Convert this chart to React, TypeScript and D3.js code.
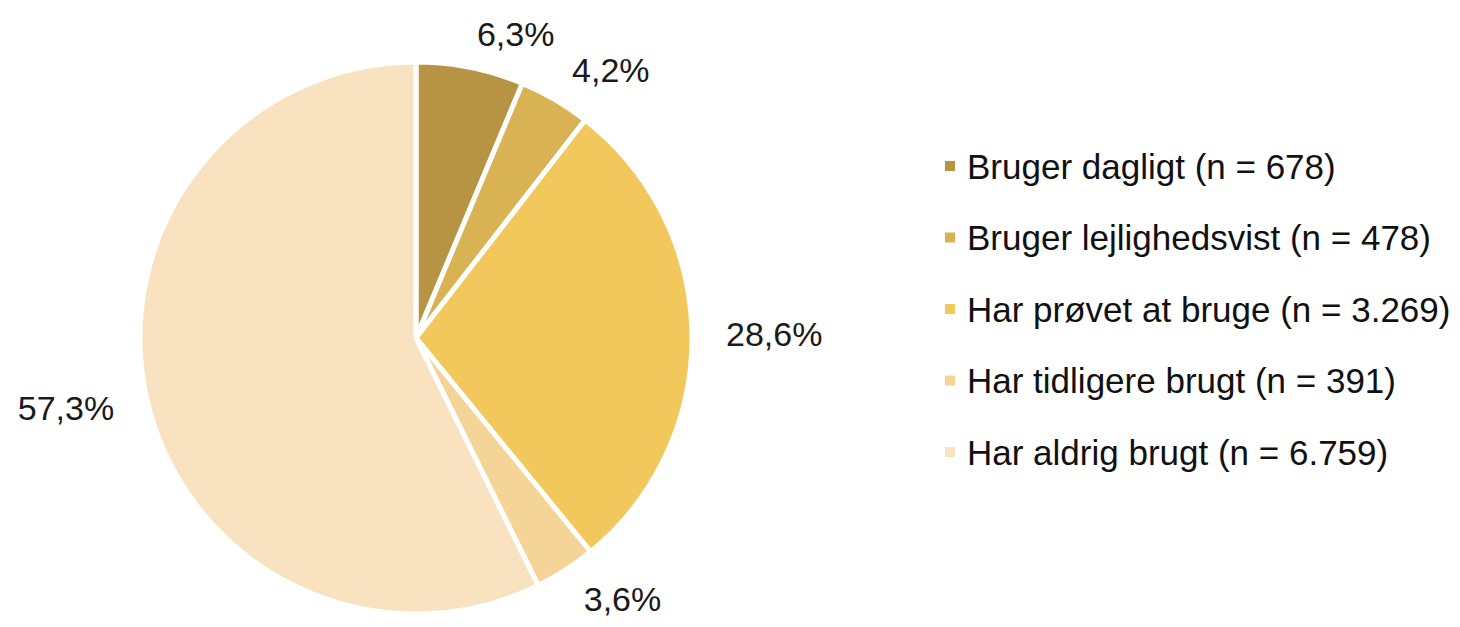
import React from "react";
import * as d3 from "d3";

const categories = [
  "Bruger dagligt (n = 678)",
  "Bruger lejlighedsvist (n = 478)",
  "Har prøvet at bruge (n = 3.269)",
  "Har tidligere brugt (n = 391)",
  "Har aldrig brugt (n = 6.759)",
];
const percentages = [6.3, 4.2, 28.6, 3.6, 57.3];
const percentLabels = ["6,3%", "4,2%", "28,6%", "3,6%", "57,3%"];
const colors = ["#B69443", "#D9B253", "#F2C75C", "#F5D597", "#F8E2C0"];

const W = 1460;
const H = 627;
const cx = 416;
const cy = 338;
const R = 276;
const labelR = 310;

export default function App() {
  const pie = d3
    .pie<number>()
    .sort(null)
    .value((d) => d);
  const arcs = pie(percentages);
  const arcGen = d3.arc<d3.PieArcDatum<number>>().innerRadius(0).outerRadius(R);
  const labelArc = d3.arc<d3.PieArcDatum<number>>().innerRadius(labelR).outerRadius(labelR);

  const legendX = 950;
  const legendY0 = 166;
  const legendStep = 71.5;

  return (
    <svg
      width={W}
      height={H}
      style={{ position: "absolute", left: 0, top: 0, background: "#fff" }}
      fontFamily="'Liberation Sans', Arial, sans-serif"
    >
      <g transform={`translate(${cx},${cy})`}>
        {arcs.map((a, i) => (
          <path key={i} d={arcGen(a) || ""} fill={colors[i]} stroke="#fff" strokeWidth={5} strokeLinejoin="miter" />
        ))}
        {arcs.map((a, i) => {
          const [x, y] = labelArc.centroid(a);
          const mid = (a.startAngle + a.endAngle) / 2;
          const anchor = mid < Math.PI ? "start" : "end";
          return (
            <text
              key={i}
              x={x}
              y={y}
              textAnchor={anchor}
              dominantBaseline="central"
              fontSize={34}
              fill="#1a1a1a"
            >
              {percentLabels[i]}
            </text>
          );
        })}
      </g>
      {categories.map((c, i) => (
        <g key={i} transform={`translate(${legendX},${legendY0 + i * legendStep})`}>
          <rect x={-5} y={-5} width={10} height={10} fill={colors[i]} />
          <text x={17} y={0} dominantBaseline="central" fontSize={35} fill="#111">
            {c}
          </text>
        </g>
      ))}
    </svg>
  );
}
